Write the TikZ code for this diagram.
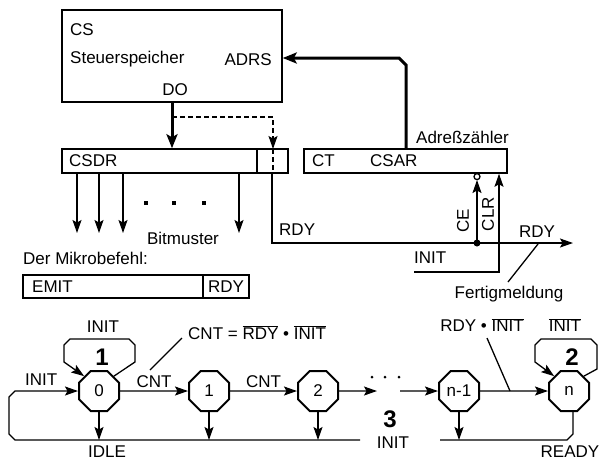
\documentclass[tikz,border=0pt]{standalone}
\usepackage{fontspec}
\setmainfont{Liberation Sans}
\usetikzlibrary{arrows.meta,shapes.geometric,calc}
\newcommand\myovl[1]{$\overline{\mbox{#1}}$}
\begin{document}
\begin{tikzpicture}[x=1pt,y=-1pt,
  font=\fontsize{17}{20}\selectfont,
  txt/.style={inner sep=1pt},
  thinl/.style={line width=1.3pt},
  dsh/.style={dash pattern=on 5pt off 3pt},
  arr/.style={line width=1.3pt,-{Stealth[length=13pt,width=9pt,inset=2.5pt]}},
  thickarr/.style={line width=3pt,-{Stealth[length=14pt,width=11pt,inset=3pt]}},
  box/.style={draw,line width=1.5pt,rectangle,inner sep=0pt},
  st/.style={draw,regular polygon,regular polygon sides=8,minimum size=43.3pt,inner sep=0pt,line width=2pt},
  big/.style={inner sep=1pt,font=\fontsize{24}{27}\selectfont\bfseries}]
\useasboundingbox (0,0) rectangle (599,467);

% ---------- upper part ----------
\node[box,minimum width=220pt,minimum height=92pt] (cs) at (172,56) {};
\node[txt,anchor=west] (cslbl) at (69,30) {CS};
\node[txt,anchor=west] (stsp) at (69,59) {Steuerspeicher};
\node[txt,anchor=east] (adrs) at (273,60) {ADRS};
\node[txt] (do) at (175,90) {DO};

\node[box,minimum width=226pt,minimum height=24pt] (csdr) at (175,161) {};
\draw[line width=1.5pt] (257,149) -- (257,173);
\node[txt,anchor=west] (csdrlbl) at (68,161) {CSDR};

\node[box,minimum width=203pt,minimum height=24pt] (ct) at (405.5,161) {};
\node[txt,anchor=west] (ctlbl) at (311,161) {CT};
\node[txt,anchor=west] (csarlbl) at (369,161) {CSAR};
\node[txt,anchor=west] (adrz) at (415,137) {Adreßzähler};

% DO -> CSDR
\draw[thickarr] (cs.south) -- (cs.south |- csdr.north);
\coordinate (dsplit) at (172,117);
\coordinate (dcorner) at (273,117);
\coordinate (dtip) at (273,149);
\draw[arr,dsh] (dsplit) -- (dcorner) -- (dtip);
\draw[thinl,dsh] (dtip) -- (273,173);

% address counter -> ADRS
\coordinate (ctout) at (406,149);
\coordinate (a1) at (406,65);
\coordinate (a2) at (399,58);
\draw[thickarr] (ctout) -- (a1) -- (a2) -- (a2 -| cs.east);

% bit lines
\foreach \bx in {77,99,123,239}
  \draw[arr] (\bx,173) -- (\bx,233);
\foreach \bx in {146,174,204}
  \fill (\bx-2.2,200.8) rectangle (\bx+2.2,205.2);
\node[txt] (bitm) at (183,238) {Bitmuster};

\node[txt,anchor=west] (mikro) at (22,258) {Der Mikrobefehl:};
\node[box,minimum width=226pt,minimum height=23pt] (emit) at (136,286.5) {};
\draw[line width=1.5pt] (203,275) -- (203,298);
\node[txt,anchor=west] (emitlbl) at (31,286.5) {EMIT};
\node[txt] (rdyb) at (226,286.5) {RDY};

% RDY line
\coordinate (rdys) at (272,173);
\coordinate (rdyc) at (272,243);
\coordinate (rdye) at (573,243);
\coordinate (dot) at (477,243);
\draw[arr] (rdys) -- (rdyc) -- (rdye);
\node[txt,anchor=west] (rdyl) at (278,230) {RDY};
\fill (dot) circle (3.5);
\draw[arr] (dot) -- (477,180);
\draw[thinl,fill=white] (477,176.6) circle (3);
\node[txt,rotate=90] (ce) at (463,221) {CE};
\node[txt,rotate=90] (clr) at (488,214) {CLR};
\coordinate (inits) at (414,272);
\coordinate (initc) at (499,272);
\draw[arr] (inits) -- (initc) -- (initc |- ct.south);
\node[txt,anchor=west] (initl) at (413,258) {INIT};
\node[txt] (rdyr) at (537,232) {RDY};
\coordinate (f1) at (538,244);
\coordinate (f2) at (508,282);
\draw[thinl] (f1) -- (f2);
\node[txt] (fert) at (509,294) {Fertigmeldung};

% ---------- state machine ----------
\node[st] (s0) at (99,391) {0};
\node[st] (s1) at (209,391) {1};
\node[st] (s2) at (318,391) {2};
\node[st] (sn1) at (459,391) {n-1};
\node[st] (sn) at (569,391) {n};

\draw[arr] (s0) -- node[txt,above=2pt] (cnt1) {CNT} (s1);
\draw[arr] (s1) -- node[txt,above=2pt] (cnt2) {CNT} (s2);
\coordinate (dl) at (377,391);
\coordinate (dr) at (400,391);
\draw[arr] (s2) -- (dl);
\foreach \bx in {372,385,399}
  \fill (\bx,377) circle (1.5);
\draw[arr] (dr) -- (sn1);
\draw[arr] (sn1) -- (sn);

% loops
\draw[arr] (s0.north east) -- (135,362) -- (135,345) -- (129,339) -- (70,339) -- (64,345) -- (64,362) -- (s0.north west);
\draw[arr] (sn.north east) -- (597,369) -- (597,345) -- (591,339) -- (541,339) -- (535,345) -- (535,362) -- (sn.north west);
\node[txt] (initloop) at (103,327) {INIT};
\node[big] (b1) at (102,357) {1};
\node[big] (b2) at (572,357) {2};
\node[big] (b3) at (390,419) {3};
\node[txt] (init3) at (393,443) {INIT};

% idle line & init entry
\coordinate (idleR) at (360,440);
\draw[arr] (idleR) -- (15,440) -- (9,434) -- (9,397) -- (15,391) -- (s0.west);
\node[txt,anchor=west] (initin) at (24,380) {INIT};
\draw[arr] (s0.south) -- (s0.south |- idleR);
\draw[arr] (s1.south) -- (s1.south |- idleR);
\draw[arr] (s2.south) -- (s2.south |- idleR);
\node[txt] (idle) at (107,452) {IDLE};

% ready line
\coordinate (readyL) at (440,440);
\draw[thinl] (readyL) -- (567,440) -- (573,434) -- ($(sn.south)+(4,0)$);
\draw[arr] (sn1.south) -- (sn1.south |- readyL);
\node[txt] (ready) at (570,452) {READY};

% annotations
\node[txt,anchor=west] (cnteq) at (187,333) {CNT = \myovl{RDY} \textbullet{} \myovl{INIT}};
\coordinate (c1) at (182,338);
\coordinate (c2) at (150,370);
\draw[thinl] (c1) -- (c2);
\node[txt] (rdyinit) at (482,325) {RDY \textbullet{} \myovl{INIT}};
\coordinate (r1) at (487,338);
\coordinate (r2) at (510,391);
\draw[thinl] (r1) -- (r2);
\node[txt] (ninit) at (565,325) {\myovl{INIT}};
\end{tikzpicture}
\end{document}
